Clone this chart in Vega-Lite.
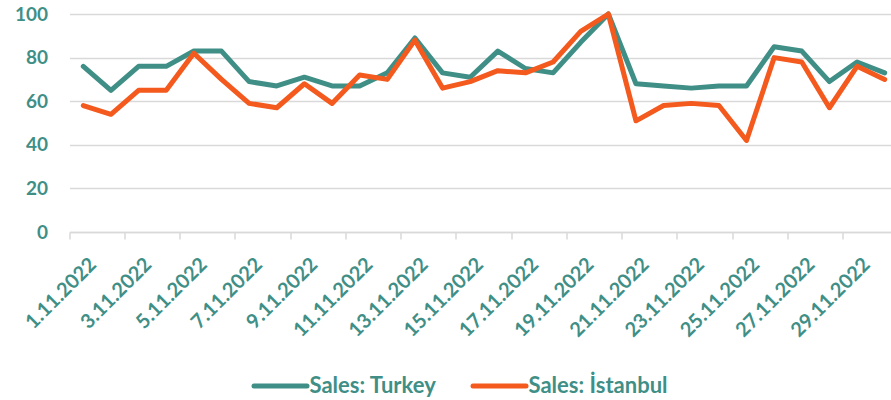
{
  "$schema": "https://vega.github.io/schema/vega-lite/v6.json",
  "autosize": "none",
  "width": 821.5,
  "height": 218,
  "padding": {"left": 69.5, "top": 14, "right": 0, "bottom": 168},
  "background": "white",
  "config": {
    "view": {"stroke": null},
    "font": "Lato"
  },
  "data": {
    "values": [
      {"date": "1.11.2022", "series": "Sales: Turkey", "value": 76},
      {"date": "2.11.2022", "series": "Sales: Turkey", "value": 65},
      {"date": "3.11.2022", "series": "Sales: Turkey", "value": 76},
      {"date": "4.11.2022", "series": "Sales: Turkey", "value": 76},
      {"date": "5.11.2022", "series": "Sales: Turkey", "value": 83},
      {"date": "6.11.2022", "series": "Sales: Turkey", "value": 83},
      {"date": "7.11.2022", "series": "Sales: Turkey", "value": 69},
      {"date": "8.11.2022", "series": "Sales: Turkey", "value": 67},
      {"date": "9.11.2022", "series": "Sales: Turkey", "value": 71},
      {"date": "10.11.2022", "series": "Sales: Turkey", "value": 67},
      {"date": "11.11.2022", "series": "Sales: Turkey", "value": 67},
      {"date": "12.11.2022", "series": "Sales: Turkey", "value": 73},
      {"date": "13.11.2022", "series": "Sales: Turkey", "value": 89},
      {"date": "14.11.2022", "series": "Sales: Turkey", "value": 73},
      {"date": "15.11.2022", "series": "Sales: Turkey", "value": 71},
      {"date": "16.11.2022", "series": "Sales: Turkey", "value": 83},
      {"date": "17.11.2022", "series": "Sales: Turkey", "value": 75},
      {"date": "18.11.2022", "series": "Sales: Turkey", "value": 73},
      {"date": "19.11.2022", "series": "Sales: Turkey", "value": 87},
      {"date": "20.11.2022", "series": "Sales: Turkey", "value": 100},
      {"date": "21.11.2022", "series": "Sales: Turkey", "value": 68},
      {"date": "22.11.2022", "series": "Sales: Turkey", "value": 67},
      {"date": "23.11.2022", "series": "Sales: Turkey", "value": 66},
      {"date": "24.11.2022", "series": "Sales: Turkey", "value": 67},
      {"date": "25.11.2022", "series": "Sales: Turkey", "value": 67},
      {"date": "26.11.2022", "series": "Sales: Turkey", "value": 85},
      {"date": "27.11.2022", "series": "Sales: Turkey", "value": 83},
      {"date": "28.11.2022", "series": "Sales: Turkey", "value": 69},
      {"date": "29.11.2022", "series": "Sales: Turkey", "value": 78},
      {"date": "30.11.2022", "series": "Sales: Turkey", "value": 73},
      {"date": "1.11.2022", "series": "Sales: İstanbul", "value": 58},
      {"date": "2.11.2022", "series": "Sales: İstanbul", "value": 54},
      {"date": "3.11.2022", "series": "Sales: İstanbul", "value": 65},
      {"date": "4.11.2022", "series": "Sales: İstanbul", "value": 65},
      {"date": "5.11.2022", "series": "Sales: İstanbul", "value": 82},
      {"date": "6.11.2022", "series": "Sales: İstanbul", "value": 70},
      {"date": "7.11.2022", "series": "Sales: İstanbul", "value": 59},
      {"date": "8.11.2022", "series": "Sales: İstanbul", "value": 57},
      {"date": "9.11.2022", "series": "Sales: İstanbul", "value": 68},
      {"date": "10.11.2022", "series": "Sales: İstanbul", "value": 59},
      {"date": "11.11.2022", "series": "Sales: İstanbul", "value": 72},
      {"date": "12.11.2022", "series": "Sales: İstanbul", "value": 70},
      {"date": "13.11.2022", "series": "Sales: İstanbul", "value": 88},
      {"date": "14.11.2022", "series": "Sales: İstanbul", "value": 66},
      {"date": "15.11.2022", "series": "Sales: İstanbul", "value": 69},
      {"date": "16.11.2022", "series": "Sales: İstanbul", "value": 74},
      {"date": "17.11.2022", "series": "Sales: İstanbul", "value": 73},
      {"date": "18.11.2022", "series": "Sales: İstanbul", "value": 78},
      {"date": "19.11.2022", "series": "Sales: İstanbul", "value": 92},
      {"date": "20.11.2022", "series": "Sales: İstanbul", "value": 100},
      {"date": "21.11.2022", "series": "Sales: İstanbul", "value": 51},
      {"date": "22.11.2022", "series": "Sales: İstanbul", "value": 58},
      {"date": "23.11.2022", "series": "Sales: İstanbul", "value": 59},
      {"date": "24.11.2022", "series": "Sales: İstanbul", "value": 58},
      {"date": "25.11.2022", "series": "Sales: İstanbul", "value": 42},
      {"date": "26.11.2022", "series": "Sales: İstanbul", "value": 80},
      {"date": "27.11.2022", "series": "Sales: İstanbul", "value": 78},
      {"date": "28.11.2022", "series": "Sales: İstanbul", "value": 57},
      {"date": "29.11.2022", "series": "Sales: İstanbul", "value": 76},
      {"date": "30.11.2022", "series": "Sales: İstanbul", "value": 70}
    ]
  },
  "mark": {"type": "line", "strokeWidth": 5, "strokeCap": "round", "strokeJoin": "round"},
  "encoding": {
    "x": {
      "field": "date",
      "type": "nominal",
      "sort": null,
      "scale": {"type": "band", "paddingInner": 0, "paddingOuter": 0, "range": [0, 829]},
      "axis": {
        "title": null,
        "values": ["1.11.2022", "3.11.2022", "5.11.2022", "7.11.2022", "9.11.2022", "11.11.2022", "13.11.2022", "15.11.2022", "17.11.2022", "19.11.2022", "21.11.2022", "23.11.2022", "25.11.2022", "27.11.2022", "29.11.2022"],
        "bandPosition": 0,
        "labelOffset": 10,
        "labelAngle": -45,
        "labelAlign": "right",
        "labelBaseline": "middle",
        "labelFont": "Lato",
        "labelFontSize": 20,
        "labelFontWeight": "bold",
        "labelColor": "#3f8f87",
        "labelPadding": 22,
        "labelOverlap": false,
        "labelFlush": false,
        "labelBound": false,
        "domainColor": "#d9d9d9",
        "domainWidth": 1.5,
        "tickColor": "#d9d9d9",
        "tickWidth": 1.5,
        "tickSize": 7,
        "grid": false
      }
    },
    "y": {
      "field": "value",
      "type": "quantitative",
      "scale": {"domain": [0, 100], "nice": false},
      "axis": {
        "title": null,
        "values": [0, 20, 40, 60, 80, 100],
        "domain": false,
        "ticks": false,
        "labelFont": "Lato",
        "labelFontSize": 19,
        "labelFontWeight": "bold",
        "labelColor": "#3f8f87",
        "labelPadding": 22,
        "gridColor": "#d9d9d9",
        "gridWidth": 1.5
      }
    },
    "color": {
      "field": "series",
      "type": "nominal",
      "sort": null,
      "scale": {"domain": ["Sales: Turkey", "Sales: İstanbul"], "range": ["#3f8f87", "#f4591d"]},
      "legend": {
        "title": null,
        "orient": "none",
        "legendX": 182,
        "legendY": 343,
        "direction": "horizontal",
        "symbolType": "stroke",
        "symbolSize": 2809,
        "symbolStrokeWidth": 5,
        "labelFont": "Lato",
        "labelFontSize": 22,
        "labelFontWeight": "bold",
        "labelColor": "#3f8f87",
        "labelOffset": 0,
        "columnPadding": 26,
        "labelLimit": 300,
        "encode": {"symbols": {"update": {"strokeCap": {"value": "round"}}}}
      }
    }
  }
}
